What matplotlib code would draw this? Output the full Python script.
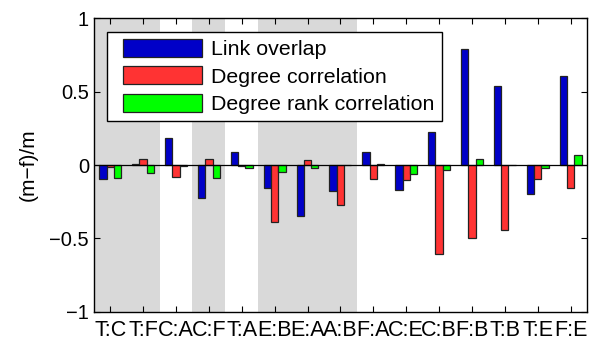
import numpy as np
import matplotlib
matplotlib.use('Agg')
import matplotlib.pyplot as plt
from matplotlib.patches import Rectangle
from matplotlib.legend_handler import HandlerPatch

plt.rcParams['font.family'] = ['Liberation Sans', 'DejaVu Sans']

pairs = ['T:C', 'T:F', 'C:A', 'C:F', 'T:A', 'E:B', 'E:A', 'A:B',
         'F:A', 'C:E', 'C:B', 'F:B', 'T:B', 'T:E', 'F:E']
link_overlap = [-0.095, 0.005, 0.186, -0.222, 0.09, -0.154, -0.35, -0.18,
                0.086, -0.172, 0.224, 0.789, 0.537, -0.197, 0.603]
degree_corr = [-0.016, 0.04, -0.08, 0.04, -0.005, -0.386, 0.034, -0.27,
               -0.095, -0.10, -0.608, -0.494, -0.442, -0.097, -0.154]
degree_rank_corr = [-0.086, -0.057, -0.005, -0.086, -0.022, -0.048, -0.022, -0.003,
                    0.01, -0.061, -0.034, 0.039, 0.002, -0.022, 0.066]
shaded = [(0.5, 2.5), (3.5, 4.5), (5.5, 8.5)]

series = [('Link overlap', link_overlap, '#0000c8'),
          ('Degree correlation', degree_corr, '#ff3333'),
          ('Degree rank correlation', degree_rank_corr, '#00ff00')]


def inset_patch(legend, orig_handle, xdescent, ydescent, width, height, fontsize):
    # leave a little gap on the left like the matlab legend
    pad = 9 * 72 / 100.
    return Rectangle((-xdescent + pad, -ydescent), width - pad, height)


def main():
    fig = plt.figure(figsize=(5.9, 3.45), dpi=100)
    ax = fig.add_axes([0.159, 0.0957, 0.836, 0.852])

    for x0, x1 in shaded:
        ax.axvspan(x0, x1, color='#d9d9d9', lw=0, zorder=0)

    x = np.arange(1, len(pairs) + 1)
    w = 0.222
    handles = []
    for i, (name, vals, col) in enumerate(series):
        b = ax.bar(x + (i - 1) * w, vals, width=w, color=col, edgecolor='#222222',
                   linewidth=0.9, label=name, zorder=2)
        handles.append(b.patches[0])
    ax.axhline(0, color='k', lw=0.9, zorder=3)

    ax.set_xlim(0.5, 15.5)
    ax.set_ylim(-1, 1)
    ax.set_xticks(x)
    ax.set_xticklabels(pairs, fontsize=15.5)
    ax.set_yticks([-1, -0.5, 0, 0.5, 1])
    ax.set_yticklabels(['\u22121', '\u22120.5', '0', '0.5', '1'], fontsize=14.5)
    ax.tick_params(direction='in', top=True, right=True, length=4, width=0.8)
    ax.tick_params(axis='x', pad=6)
    for s in ax.spines.values():
        s.set_linewidth(1.0)
    ax.set_ylabel('(m\u2212f)/m', fontsize=15, labelpad=8)

    leg = ax.legend(handles, [s[0] for s in series],
                    loc='upper left', bbox_to_anchor=(0.0270, 0.953),
                    borderaxespad=0, fontsize=15.4, handlelength=4.1,
                    handleheight=0.92, labelspacing=0.33, borderpad=0.33,
                    handletextpad=0.43, fancybox=False, framealpha=1,
                    edgecolor='k',
                    handler_map={Rectangle: HandlerPatch(patch_func=inset_patch)})
    leg.get_frame().set_linewidth(1.0)

    fig.savefig('out.png', dpi=100)


if __name__ == "__main__":
    main()
